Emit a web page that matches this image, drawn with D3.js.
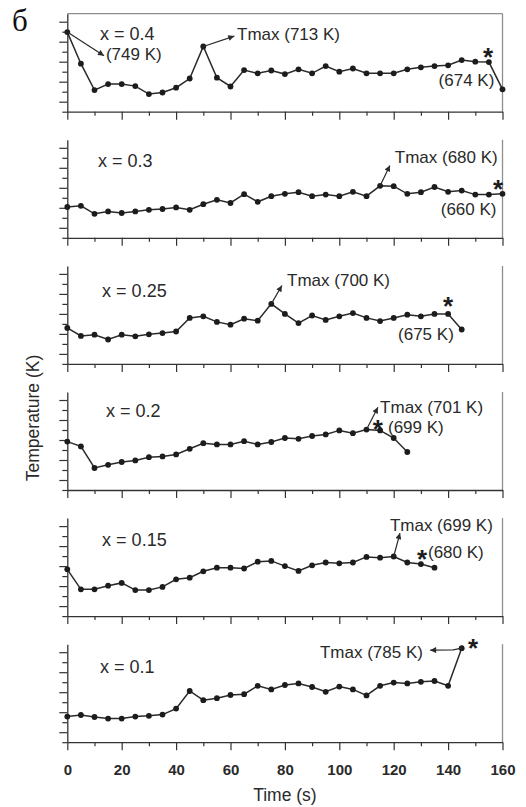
<!DOCTYPE html>
<html lang="en">
<head>
<meta charset="utf-8">
<title>Temperature vs time</title>
<script src="https://cdn.jsdelivr.net/npm/d3@7"></script>
<style>
  body { margin: 0; background: #fff; }
  text { font-family: "Liberation Sans", Arial, sans-serif; fill: #2a2a2a; }
</style>
</head>
<body>
<script>
// time steps (s)
var times = [0,5,10,15,20,25,30,35,40,45,50,55,60,65,70,75,80,85,90,95,100,105,110,115,120,125,130,135,140,145,150,155,160];

// temperatures (K), one array per panel
var tempX04  = [749,670,604,619,619,614,594,598,610,633,713,635,613,654,646,653,644,656,646,664,650,658,646,646,646,656,661,664,666,679,675,674,606];
var tempX03  = [627,630,610,616,612,616,620,622,626,620,634,645,637,659,640,654,660,664,654,658,654,665,654,680,679,660,664,677,665,668,658,658,660];
var tempX025 = [640,620,623,611,623,619,624,627,631,665,669,655,648,663,658,700,675,652,671,660,669,677,665,657,665,673,669,675,675,636];
var tempX02  = [671,659,605,613,620,624,632,634,639,653,667,664,664,672,664,670,680,678,685,689,699,692,701,699,680,645];
var tempX015 = [667,617,617,626,633,615,615,623,642,646,662,671,671,669,686,688,675,663,677,684,682,684,698,696,699,684,680,671];
var tempX01  = [614,618,613,609,609,614,616,619,634,678,655,660,668,670,691,682,693,697,688,676,689,682,667,691,699,697,701,703,691,785];

var series = [tempX04, tempX03, tempX025, tempX02, tempX015, tempX01];
var panelLabels = ["x = 0.4", "x = 0.3", "x = 0.25", "x = 0.2", "x = 0.15", "x = 0.1"];
var xMajorTicks = [0,20,40,60,80,100,120,140,160];
var xMinorTicks = [10,30,50,70,90,110,130,150];
var yMajorTicks = [575,625,675,725,775];
var yMinorTicks = [550,600,650,700,750];

// annotations, placed in data coordinates (time, K)
var notes = [
  { label: [12, 745],
    texts: [["Tmax (713 K)", 62.4, 745], ["(749 K)", 14.2, 695], ["(674 K)", 136.5, 628]],
    arrows: [{ from: 0, to: [[13.5, 690]] }, { from: 10, to: [[61.4, 739]] }],
    star: [154.7, 702] },
  { label: [11.3, 744],
    texts: [["Tmax (680 K)", 120.4, 752], ["(660 K)", 137.3, 621]],
    arrows: [{ from: 23, to: [[118.6, 731]] }],
    star: [158.4, 686] },
  { label: [12.8, 734],
    texts: [["Tmax (700 K)", 80.8, 759], ["(675 K)", 121.6, 624]],
    arrows: [{ from: 15, to: [[78.9, 746]] }],
    star: [140, 709] },
  { label: [14.2, 749],
    texts: [["Tmax (701 K)", 115, 757], ["(699 K)", 117.9, 707.5]],
    arrows: [{ from: 22, to: [[114.2, 757]] }],
    star: [114.2, 716] },
  { label: [12.8, 740],
    texts: [["Tmax (699 K)", 118.6, 777.5], ["(680 K)", 132.6, 710]],
    arrows: [{ from: 24, to: [[122.3, 757.5]] }],
    star: [130.4, 707.5] },
  { label: [12, 740],
    texts: [["Tmax (785 K)", 92.9, 775]],
    arrows: [{ from: 29, to: [[141.9, 780.8], [133.4, 780]] }],
    star: [149.2, 800] }
];

var w = 526, h = 807;
var left = 67.3, right = 502.5;
var firstBottom = 111.7, step = 126.1, panelH = 98;
var ink = "#2a2a2a";

var x = d3.scaleLinear().domain([0, 160]).range([left, right]);

var svg = d3.select("body").append("svg")
  .attr("width", w)
  .attr("height", h);

svg.append("defs").append("marker")
  .attr("id", "head")
  .attr("viewBox", "0 0 10 10")
  .attr("refX", 10).attr("refY", 5)
  .attr("markerUnits", "userSpaceOnUse")
  .attr("markerWidth", 8).attr("markerHeight", 6)
  .attr("orient", "auto")
  .append("path")
  .attr("d", "M0,0L10,5L0,10z")
  .attr("fill", ink);

svg.append("text")
  .attr("x", 12).attr("y", 31)
  .style("font-family", "'Liberation Serif', 'DejaVu Serif', serif")
  .style("font-size", "31px")
  .style("fill", "#111")
  .text("б");

series.forEach(function(vals, i) {
  var bottom = firstBottom + step * i;
  var y = d3.scaleLinear().domain([550, 795]).range([bottom, bottom - panelH]);
  var g = svg.append("g").attr("color", "#333");

  // frame on the right (and top of the first panel)
  g.append("line")
    .attr("x1", right).attr("x2", right)
    .attr("y1", bottom - panelH).attr("y2", bottom)
    .attr("stroke", "#8e8e8e").attr("stroke-width", 1.3);
  if (i === 0) {
    g.append("line")
      .attr("x1", left).attr("x2", right)
      .attr("y1", bottom - panelH).attr("y2", bottom - panelH)
      .attr("stroke", "#8e8e8e").attr("stroke-width", 1.3);
  }

  // y axis, long and short ticks
  g.append("g").attr("transform", "translate(" + left + ",0)")
    .call(d3.axisLeft(y).tickValues(yMajorTicks).tickSize(8).tickSizeOuter(0).tickFormat(""));
  var yMin = g.append("g").attr("transform", "translate(" + left + ",0)")
    .call(d3.axisLeft(y).tickValues(yMinorTicks).tickSize(5).tickFormat(""));
  yMin.select(".domain").remove();

  // x axis
  var xMaj = g.append("g").attr("transform", "translate(0," + bottom + ")")
    .call(d3.axisBottom(x).tickValues(xMajorTicks).tickSize(8).tickSizeOuter(0).tickPadding(14)
      .tickFormat(i === series.length - 1 ? d3.format("d") : ""));
  var xMin = g.append("g").attr("transform", "translate(0," + bottom + ")")
    .call(d3.axisBottom(x).tickValues(xMinorTicks).tickSize(4).tickFormat(""));
  xMin.select(".domain").remove();

  g.selectAll(".domain").attr("stroke-width", 1.3);
  g.selectAll(".tick line").attr("stroke-width", 1.2);
  xMaj.selectAll("text")
    .style("font-size", "15px")
    .style("font-weight", "bold")
    .style("fill", ink);

  var pts = vals.map(function(v, k) { return [times[k], v]; });

  var line = d3.line()
    .x(function(d) { return x(d[0]); })
    .y(function(d) { return y(d[1]); });

  g.append("path")
    .datum(pts)
    .attr("d", line)
    .attr("fill", "none")
    .attr("stroke", ink)
    .attr("stroke-width", 1.5);

  g.selectAll("circle")
    .data(pts)
    .enter()
    .append("circle")
    .attr("cx", function(d) { return x(d[0]); })
    .attr("cy", function(d) { return y(d[1]); })
    .attr("r", 2.9)
    .attr("fill", "#1c1c1c");

  var n = notes[i];

  g.append("text")
    .attr("x", x(n.label[0])).attr("y", y(n.label[1]))
    .attr("dy", "0.35em")
    .style("font-size", "18px")
    .text(panelLabels[i]);

  n.texts.forEach(function(tx) {
    g.append("text")
      .attr("x", x(tx[1])).attr("y", y(tx[2]))
      .attr("dy", "0.35em")
      .style("font-size", "17px")
      .text(tx[0]);
  });

  n.arrows.forEach(function(a) {
    var path = [pts[a.from]].concat(a.to);
    g.append("path")
      .datum(path)
      .attr("d", line)
      .attr("fill", "none")
      .attr("stroke", ink)
      .attr("stroke-width", 1.2)
      .attr("marker-end", "url(#head)");
  });

  g.append("text")
    .attr("x", x(n.star[0])).attr("y", y(n.star[1]))
    .attr("dy", "0.57em")
    .attr("text-anchor", "middle")
    .style("font-size", "26px")
    .style("font-weight", "bold")
    .style("fill", "#1c1c1c")
    .text("*");
});

svg.append("text")
  .attr("x", (left + right) / 2).attr("y", 801)
  .attr("text-anchor", "middle")
  .style("font-size", "17.5px")
  .text("Time (s)");

svg.append("text")
  .attr("transform", "translate(39,418) rotate(-90)")
  .attr("text-anchor", "middle")
  .style("font-size", "17.5px")
  .text("Temperature (K)");
</script>
</body>
</html>
